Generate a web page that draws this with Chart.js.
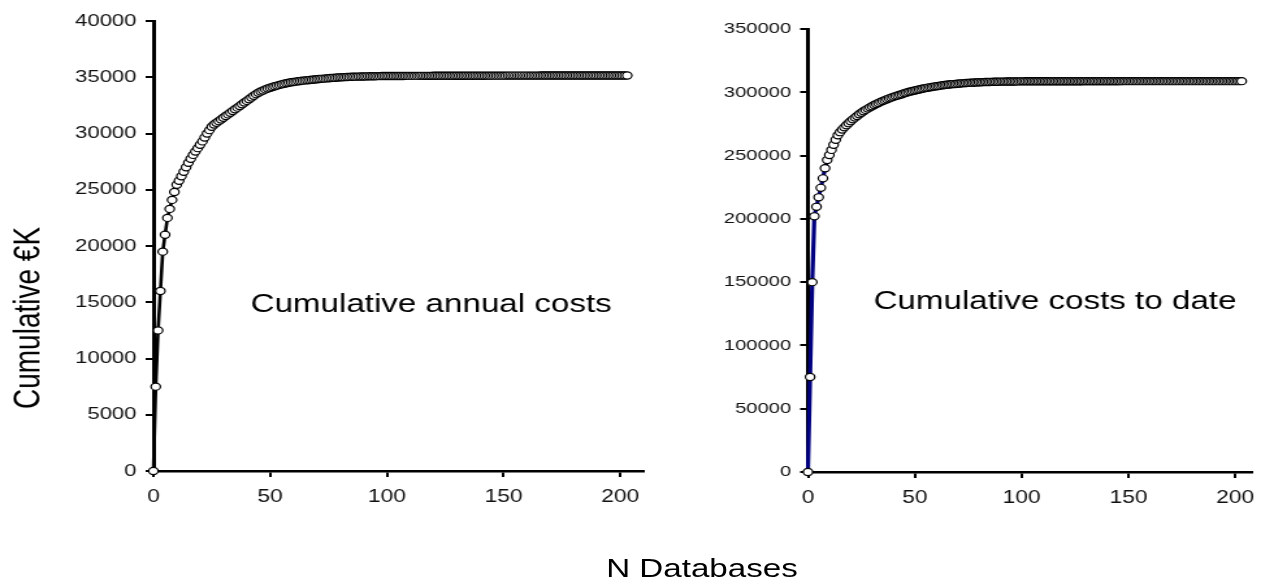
<!DOCTYPE html>
<html>
<head>
<meta charset="utf-8">
<script src="https://cdn.jsdelivr.net/npm/chart.js@4/dist/chart.umd.min.js"></script>
<style>
  body { margin: 0; background: #fff; overflow: hidden; }
  #stage { position: absolute; left: 0; top: 0; width: 975px; height: 581px; transform: scaleX(1.3); transform-origin: 0 0; font-family: "Liberation Sans", Arial, sans-serif; }
  #left-wrap { position: absolute; left: 0; top: 0; width: 530px; height: 581px; }
  #right-wrap { position: absolute; left: 530px; top: 0; width: 445px; height: 581px; }
  .ytitle { position: absolute; left: 21px; top: 318px; font-size: 28px; white-space: nowrap; transform: translate(-50%, -50%) rotate(-90deg); }
  .xtitle { position: absolute; left: 540px; top: 568px; font-size: 25.5px; white-space: nowrap; transform: translate(-50%, -50%); }
</style>
</head>
<body>
<div id="stage">
  <div id="left-wrap"><canvas id="annual-chart" width="530" height="581"></canvas></div>
  <div id="right-wrap"><canvas id="todate-chart" width="445" height="581"></canvas></div>
  <div class="ytitle">Cumulative €K</div>
  <div class="xtitle">N Databases</div>
</div>
<script>
// cumulative annual costs, one value per database (0..203)
const annualCosts = [
    0, 7500, 12500, 16000, 19500, 21000, 22500, 23300, 24100, 24800,
    25450, 25800, 26200, 26600, 27000, 27400, 27750, 28100, 28400, 28700,
    29000, 29300, 29650, 30000, 30300, 30600, 30800, 30950, 31100, 31250,
    31400, 31550, 31700, 31850, 32000, 32150, 32300, 32450, 32600, 32750,
    32900, 33050, 33200, 33350, 33500, 33620, 33730, 33830, 33920, 34000,
    34070, 34140, 34200, 34260, 34320, 34370, 34420, 34470, 34510, 34550,
    34580, 34610, 34640, 34670, 34700, 34720, 34740, 34760, 34780, 34800,
    34820, 34840, 34860, 34880, 34900, 34915, 34930, 34945, 34960, 34975,
    34990, 35000, 35010, 35020, 35030, 35040, 35050, 35055, 35060, 35065,
    35070, 35075, 35080, 35085, 35090, 35095, 35100, 35100, 35105, 35105,
    35110, 35110, 35110, 35112, 35113, 35115, 35115, 35116, 35118, 35118,
    35120, 35120, 35121, 35122, 35122, 35123, 35124, 35125, 35125, 35126,
    35127, 35128, 35128, 35129, 35130, 35130, 35131, 35132, 35132, 35133,
    35134, 35134, 35135, 35135, 35136, 35137, 35137, 35138, 35138, 35139,
    35139, 35140, 35140, 35141, 35141, 35142, 35142, 35143, 35143, 35144,
    35144, 35144, 35145, 35145, 35145, 35146, 35146, 35146, 35147, 35147,
    35147, 35147, 35148, 35148, 35148, 35148, 35149, 35149, 35149, 35149,
    35149, 35150, 35150, 35150, 35150, 35150, 35150, 35150, 35150, 35150,
    35150, 35150, 35150, 35150, 35150, 35150, 35150, 35150, 35150, 35150,
    35150, 35150, 35150, 35150, 35150, 35150, 35150, 35150, 35150, 35150,
    35150, 35150, 35150, 35150
];

// cumulative costs to date (0..203)
const costsToDate = [
    0, 75000, 150000, 202000, 209500, 217000, 224500, 232000, 240000, 246500,
    250500, 254500, 258500, 262500, 266000, 268500, 270500, 272300, 274000, 275600,
    277100, 278600, 280000, 281300, 282600, 283800, 285000, 286100, 287100, 288100,
    289000, 289900, 290800, 291600, 292400, 293100, 293800, 294500, 295200, 295800,
    296400, 297000, 297500, 298000, 298500, 299200, 299700, 300200, 300600, 301000,
    301400, 301800, 302200, 302600, 302950, 303300, 303600, 303900, 304200, 304500,
    304750, 305000, 305250, 305500, 305700, 305900, 306100, 306300, 306450, 306600,
    306750, 306900, 307050, 307200, 307300, 307400, 307500, 307600, 307700, 307800,
    307880, 307950, 308010, 308070, 308130, 308180, 308230, 308280, 308320, 308360,
    308400, 308430, 308460, 308490, 308520, 308540, 308560, 308580, 308600, 308620,
    308640, 308650, 308660, 308670, 308680, 308690, 308700, 308705, 308710, 308715,
    308720, 308725, 308730, 308735, 308740, 308745, 308750, 308752, 308755, 308758,
    308760, 308762, 308765, 308768, 308770, 308772, 308774, 308776, 308778, 308780,
    308781, 308782, 308783, 308784, 308785, 308786, 308787, 308788, 308789, 308790,
    308790, 308791, 308791, 308792, 308792, 308793, 308793, 308794, 308794, 308795,
    308795, 308795, 308796, 308796, 308796, 308797, 308797, 308797, 308798, 308798,
    308798, 308798, 308799, 308799, 308799, 308799, 308799, 308800, 308800, 308800,
    308800, 308800, 308800, 308800, 308800, 308800, 308800, 308800, 308800, 308800,
    308800, 308800, 308800, 308800, 308800, 308800, 308800, 308800, 308800, 308800,
    308800, 308800, 308800, 308800, 308800, 308800, 308800, 308800, 308800, 308800,
    308800, 308800, 308800, 308800
];

const xTicks = [0, 50, 100, 150, 200];
const annualYTicks = [0, 5000, 10000, 15000, 20000, 25000, 30000, 35000, 40000];
const toDateYTicks = [0, 50000, 100000, 150000, 200000, 250000, 300000, 350000];

Chart.defaults.font.family = '"Liberation Sans", Arial, sans-serif';
Chart.defaults.color = '#111';

// text inside the plot, placed in data units
const noteLabel = {
    id: 'noteLabel',
    afterDatasetsDraw(chart, args, opts) {
        const ctx = chart.ctx;
        ctx.save();
        ctx.font = opts.font;
        ctx.fillStyle = '#000';
        ctx.textAlign = 'center';
        ctx.textBaseline = 'middle';
        ctx.fillText(opts.text, chart.scales.x.getPixelForValue(opts.x), chart.scales.y.getPixelForValue(opts.y));
        ctx.restore();
    }
};

function makeChart(id, values, lineColor, yTicks, o) {
    const pts = values.map((v, i) => ({ x: i, y: v }));
    return new Chart(document.getElementById(id), {
        type: 'scatter',
        data: {
            datasets: [{
                data: pts,
                showLine: true,
                borderColor: lineColor,
                borderWidth: o.lineWidth,
                pointRadius: 3.6,
                pointBackgroundColor: '#fff',
                pointBorderColor: '#000',
                pointBorderWidth: 1.2,
                clip: false
            }]
        },
        options: {
            responsive: false,
            animation: false,
            layout: { padding: o.padding },
            plugins: {
                legend: { display: false },
                tooltip: { enabled: false },
                noteLabel: { text: o.note, x: o.noteX, y: o.noteY, font: '25.5px "Liberation Sans", Arial, sans-serif' }
            },
            scales: {
                x: {
                    type: 'linear',
                    min: 0,
                    max: o.xMax,
                    afterBuildTicks: s => { s.ticks = xTicks.map(v => ({ value: v })); },
                    afterFit: s => { s.height = 40; },
                    border: { display: true, color: '#000', width: 2.5 },
                    grid: { display: true, drawOnChartArea: false, drawTicks: true, tickLength: 6, color: '#000', lineWidth: 2 },
                    ticks: { font: { size: 17.5 }, padding: 10, maxRotation: 0 }
                },
                y: {
                    min: 0,
                    max: yTicks[yTicks.length - 1],
                    afterBuildTicks: s => { s.ticks = yTicks.map(v => ({ value: v })); },
                    afterFit: s => { s.width = o.yWidth; },
                    border: { display: true, color: '#000', width: 3 },
                    grid: { display: true, drawOnChartArea: false, drawTicks: true, tickLength: 6, color: '#000', lineWidth: 2 },
                    ticks: { font: { size: o.yFont }, padding: 7, callback: v => String(v) }
                }
            }
        },
        plugins: [noteLabel]
    });
}

makeChart('annual-chart', annualCosts, '#000', annualYTicks, {
    padding: { left: 0, right: 35, top: 21, bottom: 70 },
    xMax: 210, yWidth: 118, yFont: 17, lineWidth: 2.6,
    note: 'Cumulative annual costs', noteX: 119, noteY: 14760
});

makeChart('todate-chart', costsToDate, '#000080', toDateYTicks, {
    padding: { left: 0, right: 1, top: 29, bottom: 69 },
    xMax: 208, yWidth: 91.5, yFont: 15.5, lineWidth: 3.2,
    note: 'Cumulative costs to date', noteX: 115.6, noteY: 134300
});
</script>
</body>
</html>
